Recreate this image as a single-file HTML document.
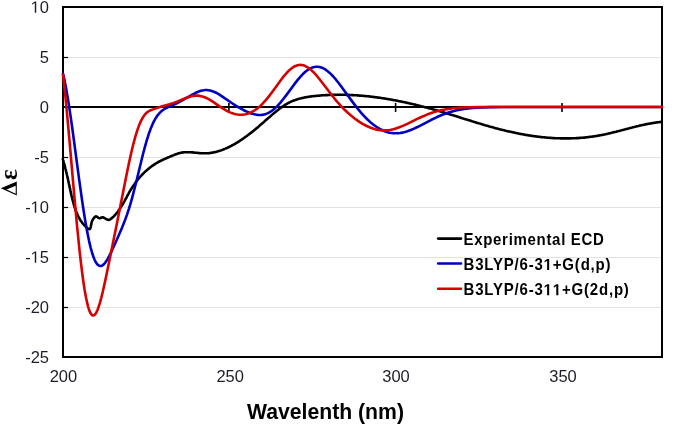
<!DOCTYPE html>
<html><head><meta charset="utf-8"><style>
html,body{margin:0;padding:0;background:#fff;}
body{width:675px;height:426px;overflow:hidden;}
svg{display:block;will-change:transform;}
.lab{font-family:"Liberation Sans",sans-serif;font-size:16.5px;fill:#1e1e2a;}
.leg{font-family:"Liberation Sans",sans-serif;font-size:15px;font-weight:bold;fill:#000;letter-spacing:0.7px;}
.o1{fill-opacity:0;}
.ttl{font-family:"Liberation Sans",sans-serif;font-size:21.2px;font-weight:bold;fill:#000;}
.yt{font-family:"Liberation Serif",serif;font-size:25px;font-weight:bold;fill:#000;}
</style></head><body>
<svg width="675" height="426" viewBox="0 0 675 426">
<rect x="0" y="0" width="675" height="426" fill="#fff"/>
<g stroke="#e2e2e2" stroke-width="1"><line x1="63.0" y1="57.5" x2="662.0" y2="57.5"/><line x1="63.0" y1="157.5" x2="662.0" y2="157.5"/><line x1="63.0" y1="207.5" x2="662.0" y2="207.5"/><line x1="63.0" y1="257.5" x2="662.0" y2="257.5"/><line x1="63.0" y1="307.5" x2="662.0" y2="307.5"/></g>
<g stroke="#000" stroke-width="1.2"><line x1="63.0" y1="57.5" x2="68.0" y2="57.5"/><line x1="63.0" y1="157.5" x2="68.0" y2="157.5"/><line x1="63.0" y1="207.5" x2="68.0" y2="207.5"/><line x1="63.0" y1="257.5" x2="68.0" y2="257.5"/><line x1="63.0" y1="307.5" x2="68.0" y2="307.5"/></g>
<line x1="63.0" y1="107" x2="662.0" y2="107" stroke="#000" stroke-width="2"/>
<g stroke="#000" stroke-width="1.6"><line x1="228.9" y1="103" x2="228.9" y2="112"/><line x1="395.6" y1="103" x2="395.6" y2="112"/><line x1="562.0" y1="103" x2="562.0" y2="112"/></g>
<rect x="63.0" y="7" width="599.0" height="350" fill="none" stroke="#000" stroke-width="2"/>
<g fill="none" stroke-width="2.6" stroke-linejoin="round" stroke-linecap="round">
<path d="M62.8 159.0 L63.0 159.8 L63.2 160.5 L63.5 161.3 L63.7 162.1 L63.9 162.8 L64.1 163.6 L64.3 164.4 L64.5 165.2 L64.7 165.9 L64.9 166.7 L65.1 167.4 L65.3 168.2 L65.5 169.0 L65.7 169.7 L65.9 170.5 L66.1 171.3 L66.3 172.0 L66.5 172.8 L66.7 173.6 L66.8 174.3 L67.0 175.1 L67.2 175.9 L67.4 176.6 L67.5 177.4 L67.7 178.2 L67.9 178.9 L68.1 179.7 L68.2 180.5 L68.4 181.2 L68.6 182.0 L68.7 182.8 L68.9 183.6 L69.1 184.3 L69.2 185.1 L69.4 185.9 L69.6 186.7 L69.7 187.4 L69.9 188.2 L70.1 189.0 L70.2 189.8 L70.4 190.6 L70.6 191.3 L70.7 192.1 L70.9 192.9 L71.1 193.7 L71.3 194.5 L71.4 195.2 L71.6 196.0 L71.8 196.8 L72.0 197.6 L72.2 198.4 L72.4 199.1 L72.6 199.9 L72.8 200.7 L73.0 201.4 L73.2 202.2 L73.4 203.0 L73.6 203.7 L73.8 204.5 L74.0 205.3 L74.3 206.0 L74.5 206.8 L74.7 207.5 L75.0 208.3 L75.2 209.0 L75.5 209.7 L75.8 210.5 L76.0 211.2 L76.3 211.9 L76.6 212.6 L76.9 213.3 L77.2 214.1 L77.5 214.8 L77.8 215.5 L78.2 216.1 L78.5 216.8 L78.9 217.5 L79.2 218.2 L79.6 218.9 L80.0 219.5 L80.4 220.2 L80.8 220.8 L81.3 221.5 L81.7 222.1 L82.2 222.8 L82.7 223.4 L83.2 224.0 L83.8 224.7 L84.4 225.3 L85.0 225.9 L85.6 226.5 L86.2 227.1 L86.9 227.7 L87.6 228.3 L88.3 228.8 L88.9 229.1 L89.4 229.2 L89.9 228.9 L90.2 228.5 L90.5 227.8 L90.7 227.0 L90.9 226.1 L91.1 225.1 L91.3 224.1 L91.5 223.1 L91.7 222.2 L92.0 221.4 L92.3 220.6 L92.6 220.0 L93.0 219.3 L93.5 218.6 L94.0 217.9 L94.6 217.2 L95.2 216.7 L95.8 216.4 L96.5 216.5 L97.1 216.8 L97.8 217.3 L98.5 217.9 L99.1 218.2 L99.8 218.2 L100.6 218.0 L101.3 217.6 L102.0 217.4 L102.8 217.3 L103.5 217.5 L104.2 217.9 L105.0 218.3 L105.7 218.8 L106.4 219.2 L107.1 219.6 L107.9 219.8 L108.6 219.9 L109.2 219.8 L109.9 219.5 L110.6 219.1 L111.2 218.6 L111.9 218.1 L112.5 217.5 L113.1 216.9 L113.7 216.4 L114.3 215.8 L114.8 215.2 L115.4 214.6 L115.9 214.0 L116.5 213.3 L117.0 212.7 L117.5 212.1 L118.0 211.4 L118.4 210.8 L118.9 210.1 L119.4 209.5 L119.8 208.8 L120.3 208.2 L120.7 207.5 L121.1 206.8 L121.6 206.1 L122.0 205.4 L122.4 204.8 L122.8 204.1 L123.2 203.4 L123.6 202.7 L124.0 202.0 L124.4 201.3 L124.8 200.6 L125.1 199.9 L125.5 199.2 L125.9 198.5 L126.3 197.8 L126.7 197.1 L127.0 196.4 L127.4 195.7 L127.8 195.0 L128.2 194.3 L128.6 193.6 L128.9 192.9 L129.3 192.2 L129.7 191.5 L130.1 190.9 L130.5 190.2 L130.9 189.5 L131.3 188.8 L131.8 188.2 L132.2 187.5 L132.6 186.8 L133.0 186.2 L133.5 185.5 L133.9 184.9 L134.4 184.2 L134.8 183.6 L135.3 182.9 L135.7 182.3 L136.2 181.7 L136.7 181.1 L137.2 180.4 L137.6 179.8 L138.1 179.2 L138.6 178.6 L139.1 178.0 L139.6 177.4 L140.2 176.8 L140.7 176.2 L141.2 175.7 L141.7 175.1 L142.3 174.5 L142.8 174.0 L143.4 173.4 L143.9 172.9 L144.5 172.3 L145.0 171.8 L145.6 171.2 L146.2 170.7 L146.8 170.2 L147.4 169.7 L148.0 169.2 L148.6 168.7 L149.2 168.2 L149.8 167.7 L150.4 167.2 L151.0 166.7 L151.7 166.3 L152.3 165.8 L153.0 165.4 L153.6 164.9 L154.3 164.5 L155.0 164.1 L155.6 163.6 L156.3 163.2 L157.0 162.8 L157.7 162.4 L158.4 162.0 L159.1 161.6 L159.8 161.3 L160.5 160.9 L161.3 160.5 L162.0 160.2 L162.7 159.8 L163.4 159.5 L164.2 159.2 L164.9 158.8 L165.7 158.5 L166.4 158.2 L167.1 157.9 L167.9 157.5 L168.6 157.2 L169.4 156.9 L170.1 156.6 L170.8 156.3 L171.6 156.0 L172.3 155.7 L173.0 155.4 L173.8 155.1 L174.5 154.8 L175.2 154.6 L175.9 154.3 L176.7 154.0 L177.4 153.8 L178.1 153.5 L178.8 153.3 L179.6 153.1 L180.3 152.9 L181.0 152.8 L181.8 152.6 L182.5 152.5 L183.3 152.4 L184.0 152.3 L184.8 152.3 L185.5 152.2 L186.3 152.2 L187.1 152.2 L187.9 152.2 L188.6 152.2 L189.4 152.2 L190.2 152.3 L191.0 152.3 L191.8 152.4 L192.6 152.4 L193.4 152.5 L194.2 152.6 L195.0 152.7 L195.8 152.7 L196.6 152.8 L197.4 152.9 L198.2 153.0 L199.0 153.0 L199.8 153.1 L200.6 153.2 L201.4 153.2 L202.2 153.3 L203.0 153.3 L203.8 153.3 L204.6 153.3 L205.4 153.3 L206.2 153.3 L207.0 153.3 L207.8 153.2 L208.6 153.2 L209.4 153.1 L210.2 153.0 L211.0 152.9 L211.8 152.8 L212.6 152.6 L213.4 152.5 L214.1 152.3 L214.9 152.1 L215.7 152.0 L216.5 151.8 L217.2 151.6 L218.0 151.3 L218.7 151.1 L219.5 150.9 L220.3 150.6 L221.0 150.4 L221.8 150.1 L222.5 149.8 L223.3 149.5 L224.0 149.2 L224.7 148.9 L225.5 148.6 L226.2 148.3 L226.9 148.0 L227.7 147.6 L228.4 147.3 L229.1 147.0 L229.8 146.6 L230.5 146.2 L231.2 145.9 L231.9 145.5 L232.6 145.1 L233.3 144.8 L234.0 144.4 L234.7 144.0 L235.4 143.6 L236.0 143.2 L236.7 142.8 L237.4 142.4 L238.1 142.0 L238.7 141.5 L239.4 141.1 L240.0 140.7 L240.7 140.3 L241.4 139.8 L242.0 139.4 L242.7 138.9 L243.3 138.5 L243.9 138.0 L244.6 137.6 L245.2 137.1 L245.8 136.7 L246.5 136.2 L247.1 135.7 L247.7 135.3 L248.4 134.8 L249.0 134.3 L249.6 133.8 L250.2 133.4 L250.8 132.9 L251.5 132.4 L252.1 131.9 L252.7 131.4 L253.3 130.9 L253.9 130.4 L254.5 129.9 L255.1 129.4 L255.7 128.9 L256.3 128.4 L257.0 127.9 L257.6 127.4 L258.2 126.9 L258.8 126.4 L259.4 125.8 L260.0 125.3 L260.6 124.8 L261.2 124.3 L261.8 123.8 L262.4 123.2 L263.0 122.7 L263.6 122.2 L264.2 121.7 L264.8 121.1 L265.4 120.6 L266.0 120.1 L266.6 119.6 L267.2 119.0 L267.8 118.5 L268.4 118.0 L269.0 117.4 L269.6 116.9 L270.2 116.4 L270.8 115.9 L271.4 115.3 L272.1 114.8 L272.7 114.3 L273.3 113.8 L273.9 113.2 L274.5 112.7 L275.1 112.2 L275.8 111.7 L276.4 111.2 L277.0 110.7 L277.6 110.2 L278.3 109.7 L278.9 109.2 L279.5 108.7 L280.2 108.2 L280.8 107.8 L281.5 107.3 L282.1 106.9 L282.8 106.4 L283.4 106.0 L284.1 105.5 L284.8 105.1 L285.4 104.7 L286.1 104.3 L286.8 103.9 L287.5 103.5 L288.1 103.1 L288.8 102.8 L289.5 102.4 L290.2 102.1 L290.9 101.7 L291.6 101.4 L292.3 101.1 L293.1 100.8 L293.8 100.5 L294.5 100.2 L295.3 100.0 L296.0 99.7 L296.7 99.5 L297.5 99.2 L298.2 99.0 L299.0 98.8 L299.7 98.6 L300.5 98.4 L301.3 98.2 L302.0 98.0 L302.8 97.9 L303.6 97.7 L304.3 97.5 L305.1 97.4 L305.9 97.2 L306.7 97.1 L307.5 97.0 L308.3 96.9 L309.0 96.7 L309.8 96.6 L310.6 96.5 L311.4 96.4 L312.2 96.3 L313.0 96.2 L313.8 96.1 L314.6 96.0 L315.4 96.0 L316.2 95.9 L316.9 95.8 L317.7 95.7 L318.5 95.7 L319.3 95.6 L320.1 95.5 L320.9 95.5 L321.7 95.4 L322.5 95.3 L323.3 95.3 L324.1 95.2 L324.9 95.2 L325.7 95.1 L326.5 95.1 L327.2 95.1 L328.0 95.0 L328.8 95.0 L329.6 95.0 L330.4 94.9 L331.2 94.9 L332.0 94.9 L332.8 94.8 L333.6 94.8 L334.4 94.8 L335.2 94.8 L336.0 94.8 L336.7 94.8 L337.5 94.8 L338.3 94.8 L339.1 94.8 L339.9 94.8 L340.7 94.8 L341.5 94.8 L342.3 94.8 L343.1 94.8 L343.9 94.8 L344.7 94.8 L345.4 94.8 L346.2 94.9 L347.0 94.9 L347.8 94.9 L348.6 94.9 L349.4 95.0 L350.2 95.0 L351.0 95.0 L351.8 95.1 L352.5 95.1 L353.3 95.1 L354.1 95.2 L354.9 95.2 L355.7 95.3 L356.5 95.3 L357.3 95.4 L358.1 95.4 L358.9 95.5 L359.6 95.6 L360.4 95.6 L361.2 95.7 L362.0 95.7 L362.8 95.8 L363.6 95.9 L364.4 96.0 L365.1 96.0 L365.9 96.1 L366.7 96.2 L367.5 96.3 L368.3 96.3 L369.1 96.4 L369.9 96.5 L370.6 96.6 L371.4 96.7 L372.2 96.8 L373.0 96.9 L373.8 97.0 L374.6 97.1 L375.4 97.2 L376.1 97.3 L376.9 97.4 L377.7 97.5 L378.5 97.6 L379.3 97.7 L380.1 97.8 L380.8 97.9 L381.6 98.1 L382.4 98.2 L383.2 98.3 L384.0 98.4 L384.8 98.5 L385.5 98.7 L386.3 98.8 L387.1 98.9 L387.9 99.1 L388.7 99.2 L389.4 99.3 L390.2 99.5 L391.0 99.6 L391.8 99.7 L392.6 99.9 L393.3 100.0 L394.1 100.2 L394.9 100.3 L395.7 100.5 L396.5 100.6 L397.2 100.8 L398.0 100.9 L398.8 101.1 L399.6 101.2 L400.3 101.4 L401.1 101.5 L401.9 101.7 L402.7 101.9 L403.5 102.0 L404.2 102.2 L405.0 102.3 L405.8 102.5 L406.6 102.7 L407.3 102.9 L408.1 103.0 L408.9 103.2 L409.7 103.4 L410.4 103.6 L411.2 103.7 L412.0 103.9 L412.7 104.1 L413.5 104.3 L414.3 104.5 L415.1 104.6 L415.8 104.8 L416.6 105.0 L417.4 105.2 L418.2 105.4 L418.9 105.6 L419.7 105.8 L420.5 106.0 L421.2 106.2 L422.0 106.4 L422.8 106.6 L423.5 106.8 L424.3 107.0 L425.1 107.2 L425.8 107.4 L426.6 107.6 L427.4 107.8 L428.1 108.0 L428.9 108.2 L429.7 108.4 L430.4 108.6 L431.2 108.8 L432.0 109.0 L432.7 109.3 L433.5 109.5 L434.3 109.7 L435.0 109.9 L435.8 110.1 L436.6 110.3 L437.3 110.6 L438.1 110.8 L438.9 111.0 L439.6 111.2 L440.4 111.4 L441.1 111.7 L441.9 111.9 L442.7 112.1 L443.4 112.3 L444.2 112.6 L444.9 112.8 L445.7 113.0 L446.5 113.3 L447.2 113.5 L448.0 113.7 L448.7 114.0 L449.5 114.2 L450.2 114.4 L451.0 114.7 L451.8 114.9 L452.5 115.1 L453.3 115.4 L454.0 115.6 L454.8 115.8 L455.5 116.1 L456.3 116.3 L457.1 116.5 L457.8 116.8 L458.6 117.0 L459.3 117.3 L460.1 117.5 L460.8 117.7 L461.6 118.0 L462.3 118.2 L463.1 118.4 L463.9 118.7 L464.6 118.9 L465.4 119.2 L466.1 119.4 L466.9 119.6 L467.6 119.9 L468.4 120.1 L469.1 120.3 L469.9 120.6 L470.7 120.8 L471.4 121.0 L472.2 121.3 L472.9 121.5 L473.7 121.7 L474.4 122.0 L475.2 122.2 L475.9 122.4 L476.7 122.7 L477.5 122.9 L478.2 123.1 L479.0 123.4 L479.7 123.6 L480.5 123.8 L481.2 124.0 L482.0 124.3 L482.8 124.5 L483.5 124.7 L484.3 124.9 L485.0 125.2 L485.8 125.4 L486.5 125.6 L487.3 125.8 L488.1 126.0 L488.8 126.3 L489.6 126.5 L490.3 126.7 L491.1 126.9 L491.9 127.1 L492.6 127.3 L493.4 127.5 L494.2 127.7 L494.9 128.0 L495.7 128.2 L496.4 128.4 L497.2 128.6 L498.0 128.8 L498.7 129.0 L499.5 129.2 L500.3 129.4 L501.0 129.6 L501.8 129.7 L502.6 129.9 L503.3 130.1 L504.1 130.3 L504.9 130.5 L505.6 130.7 L506.4 130.9 L507.2 131.1 L507.9 131.2 L508.7 131.4 L509.5 131.6 L510.3 131.8 L511.0 131.9 L511.8 132.1 L512.6 132.3 L513.3 132.4 L514.1 132.6 L514.9 132.8 L515.7 132.9 L516.4 133.1 L517.2 133.3 L518.0 133.4 L518.8 133.6 L519.5 133.7 L520.3 133.9 L521.1 134.0 L521.9 134.2 L522.6 134.3 L523.4 134.4 L524.2 134.6 L525.0 134.7 L525.8 134.9 L526.5 135.0 L527.3 135.1 L528.1 135.3 L528.9 135.4 L529.7 135.5 L530.4 135.6 L531.2 135.7 L532.0 135.9 L532.8 136.0 L533.6 136.1 L534.4 136.2 L535.1 136.3 L535.9 136.4 L536.7 136.5 L537.5 136.6 L538.3 136.7 L539.1 136.8 L539.9 136.9 L540.7 137.0 L541.4 137.1 L542.2 137.2 L543.0 137.2 L543.8 137.3 L544.6 137.4 L545.4 137.5 L546.2 137.5 L547.0 137.6 L547.8 137.7 L548.6 137.7 L549.4 137.8 L550.2 137.9 L550.9 137.9 L551.7 138.0 L552.5 138.0 L553.3 138.1 L554.1 138.1 L554.9 138.2 L555.7 138.2 L556.5 138.2 L557.3 138.3 L558.1 138.3 L558.9 138.3 L559.7 138.3 L560.5 138.4 L561.3 138.4 L562.1 138.4 L562.9 138.4 L563.7 138.4 L564.5 138.4 L565.3 138.4 L566.1 138.4 L566.9 138.4 L567.6 138.4 L568.4 138.4 L569.2 138.4 L570.0 138.4 L570.8 138.4 L571.6 138.3 L572.4 138.3 L573.2 138.3 L574.0 138.3 L574.8 138.2 L575.6 138.2 L576.4 138.1 L577.2 138.1 L578.0 138.1 L578.8 138.0 L579.6 137.9 L580.4 137.9 L581.1 137.8 L581.9 137.8 L582.7 137.7 L583.5 137.6 L584.3 137.6 L585.1 137.5 L585.9 137.4 L586.7 137.3 L587.5 137.2 L588.2 137.1 L589.0 137.0 L589.8 136.9 L590.6 136.8 L591.4 136.7 L592.2 136.6 L593.0 136.5 L593.7 136.4 L594.5 136.3 L595.3 136.2 L596.1 136.0 L596.9 135.9 L597.6 135.8 L598.4 135.6 L599.2 135.5 L600.0 135.3 L600.7 135.2 L601.5 135.0 L602.3 134.9 L603.1 134.7 L603.8 134.6 L604.6 134.4 L605.4 134.2 L606.2 134.1 L606.9 133.9 L607.7 133.7 L608.5 133.5 L609.2 133.4 L610.0 133.2 L610.8 133.0 L611.6 132.8 L612.3 132.6 L613.1 132.4 L613.9 132.3 L614.6 132.1 L615.4 131.9 L616.2 131.7 L616.9 131.5 L617.7 131.3 L618.5 131.1 L619.2 130.9 L620.0 130.7 L620.7 130.5 L621.5 130.3 L622.3 130.1 L623.0 129.9 L623.8 129.7 L624.6 129.5 L625.3 129.3 L626.1 129.1 L626.9 128.9 L627.6 128.7 L628.4 128.5 L629.2 128.3 L629.9 128.1 L630.7 127.9 L631.5 127.7 L632.2 127.5 L633.0 127.3 L633.8 127.1 L634.5 126.9 L635.3 126.7 L636.1 126.5 L636.8 126.3 L637.6 126.2 L638.4 126.0 L639.1 125.8 L639.9 125.6 L640.7 125.4 L641.5 125.3 L642.2 125.1 L643.0 124.9 L643.8 124.7 L644.6 124.6 L645.3 124.4 L646.1 124.3 L646.9 124.1 L647.7 124.0 L648.4 123.8 L649.2 123.7 L650.0 123.5 L650.8 123.4 L651.6 123.2 L652.3 123.1 L653.1 123.0 L653.9 122.9 L654.7 122.7 L655.5 122.6 L656.3 122.5 L657.0 122.4 L657.8 122.3 L658.6 122.2 L659.4 122.1 L660.2 122.0 L661.0 121.9 L661.8 121.9" stroke="#000"/>
<path d="M63.00 73.56 L64.50 80.24 L66.00 87.87 L67.60 96.97 L69.30 107.61 L70.90 118.38 L72.60 130.47 L79.10 179.11 L81.90 199.18 L83.40 209.26 L84.80 218.10 L86.20 226.32 L87.50 233.35 L89.10 241.11 L90.70 247.85 L92.30 253.52 L93.80 257.86 L94.60 259.78 L95.40 261.44 L96.20 262.83 L97.00 263.96 L97.80 264.84 L98.60 265.48 L99.40 265.88 L100.30 266.06 L101.20 265.96 L102.10 265.62 L103.10 264.95 L104.10 264.02 L105.10 262.85 L106.20 261.32 L107.40 259.40 L108.60 257.25 L110.20 254.14 L112.10 250.16 L117.80 237.50 L122.10 227.51 L125.20 219.64 L127.10 214.33 L128.90 208.86 L130.60 203.27 L132.40 196.88 L135.60 184.50 L142.90 154.54 L144.90 146.92 L146.70 140.58 L148.80 133.91 L150.80 128.38 L151.80 125.92 L152.90 123.44 L153.90 121.40 L155.00 119.36 L156.00 117.70 L157.10 116.06 L158.20 114.61 L159.30 113.32 L160.50 112.09 L161.70 111.02 L163.00 110.00 L164.50 108.99 L166.20 108.01 L168.10 107.05 L176.30 103.46 L180.50 101.43 L184.50 99.23 L192.30 94.64 L195.30 93.03 L198.20 91.71 L200.80 90.81 L202.40 90.42 L203.90 90.18 L205.40 90.06 L206.90 90.07 L208.40 90.20 L210.00 90.49 L211.50 90.88 L213.10 91.43 L214.50 92.01 L216.00 92.72 L219.10 94.45 L222.40 96.56 L231.40 102.78 L236.10 105.84 L238.70 107.42 L241.30 108.90 L243.80 110.22 L246.20 111.39 L248.80 112.51 L251.20 113.41 L253.50 114.10 L255.60 114.58 L257.60 114.87 L259.60 114.98 L261.50 114.90 L263.40 114.63 L265.10 114.21 L266.80 113.61 L268.50 112.84 L270.20 111.89 L271.90 110.75 L273.60 109.44 L275.40 107.87 L277.20 106.12 L280.20 102.84 L283.50 98.80 L286.70 94.59 L294.20 84.40 L298.10 79.41 L300.10 77.05 L301.90 75.08 L303.70 73.28 L305.40 71.74 L307.30 70.25 L309.10 69.05 L310.90 68.09 L312.60 67.41 L314.40 66.93 L316.10 66.71 L317.80 66.73 L319.60 66.99 L321.20 67.44 L322.80 68.08 L324.40 68.91 L326.00 69.93 L327.70 71.19 L329.40 72.64 L331.20 74.36 L333.00 76.24 L336.00 79.70 L339.40 83.99 L342.70 88.42 L352.30 101.63 L355.30 105.59 L358.10 109.13 L361.20 112.82 L364.20 116.16 L367.20 119.22 L370.10 121.92 L373.20 124.50 L376.30 126.76 L379.40 128.69 L382.40 130.23 L385.40 131.46 L386.90 131.96 L388.50 132.40 L390.00 132.73 L391.60 132.99 L393.10 133.16 L394.70 133.26 L396.50 133.27 L398.30 133.17 L400.20 132.96 L402.10 132.64 L404.00 132.22 L406.00 131.67 L408.00 131.03 L410.10 130.27 L413.50 128.85 L417.40 127.03 L430.90 120.04 L436.50 117.30 L439.40 116.00 L442.30 114.79 L445.10 113.72 L447.80 112.78 L450.40 111.97 L453.10 111.21 L455.80 110.54 L458.50 109.95 L464.20 108.96 L470.40 108.21 L476.50 107.72 L483.40 107.38 L491.50 107.17 L501.90 107.05 L526.20 107.00 L662.00 107.00" stroke="#0000c0"/>
<path d="M63.00 74.46 L65.00 92.69 L67.30 116.33 L69.40 139.62 L74.50 198.11 L77.10 226.36 L79.50 250.08 L80.60 259.98 L81.70 269.17 L83.20 280.49 L84.60 289.70 L86.00 297.53 L87.40 303.95 L88.10 306.62 L88.80 308.94 L89.50 310.89 L90.20 312.50 L90.90 313.75 L91.60 314.66 L92.30 315.23 L92.70 315.40 L93.10 315.48 L93.60 315.42 L94.10 315.21 L94.60 314.84 L95.20 314.21 L95.70 313.52 L96.30 312.51 L97.50 309.94 L98.70 306.69 L99.90 302.84 L101.20 298.10 L102.70 292.03 L105.30 280.40 L108.90 263.06 L117.00 222.98 L125.60 179.58 L128.50 165.35 L130.30 156.98 L132.00 149.54 L133.60 143.05 L135.20 137.13 L137.10 130.90 L139.00 125.57 L139.90 123.37 L140.90 121.14 L141.80 119.35 L142.80 117.58 L143.80 116.03 L144.80 114.70 L145.80 113.56 L146.80 112.61 L147.90 111.75 L149.00 111.05 L150.20 110.45 L151.60 109.88 L161.50 106.49 L169.40 104.27 L173.00 103.12 L177.00 101.63 L185.30 98.22 L188.90 96.95 L191.20 96.32 L193.40 95.89 L195.50 95.67 L197.50 95.66 L199.90 95.90 L202.30 96.44 L204.70 97.26 L207.30 98.44 L209.50 99.64 L212.00 101.18 L220.70 107.10 L224.40 109.45 L226.40 110.59 L228.30 111.57 L230.10 112.39 L231.90 113.09 L233.90 113.74 L235.90 114.23 L237.90 114.56 L239.90 114.73 L241.90 114.72 L243.80 114.55 L245.70 114.22 L247.60 113.73 L249.50 113.06 L251.40 112.23 L253.30 111.21 L255.20 110.02 L257.10 108.64 L259.00 107.09 L260.90 105.36 L262.80 103.46 L266.00 99.90 L269.50 95.57 L272.80 91.17 L280.00 81.23 L283.30 76.91 L286.40 73.24 L287.90 71.64 L289.30 70.28 L290.80 68.96 L292.20 67.89 L293.60 66.97 L294.90 66.26 L296.30 65.66 L297.60 65.26 L298.90 65.01 L300.20 64.92 L301.70 65.01 L303.30 65.33 L304.80 65.83 L306.40 66.58 L308.00 67.54 L309.60 68.69 L311.30 70.11 L313.00 71.71 L315.80 74.69 L319.00 78.49 L322.10 82.45 L331.70 95.06 L334.90 99.05 L338.00 102.72 L341.50 106.58 L344.90 110.04 L348.40 113.32 L351.90 116.31 L355.60 119.18 L359.40 121.82 L363.10 124.09 L366.70 126.00 L370.20 127.55 L373.60 128.76 L377.00 129.65 L380.30 130.19 L382.10 130.35 L383.90 130.42 L385.70 130.39 L387.50 130.26 L389.30 130.04 L391.20 129.71 L393.10 129.29 L395.00 128.78 L398.70 127.55 L402.80 125.91 L407.30 123.85 L417.30 118.95 L422.00 116.75 L427.10 114.59 L432.00 112.79 L434.90 111.87 L437.80 111.05 L440.70 110.33 L443.70 109.70 L446.80 109.14 L450.00 108.67 L453.40 108.26 L456.90 107.93 L462.70 107.55 L469.30 107.29 L477.10 107.12 L487.30 107.04 L662.00 107.00" stroke="#d60000"/>
</g>
<g class="lab" text-anchor="end"><text x="49" y="12.8"><tspan class="o1">1</tspan>0</text><text x="49" y="62.8">5</text><text x="49" y="112.8">0</text><text x="49" y="162.8">-5</text><text x="49" y="212.8">-<tspan class="o1">1</tspan>0</text><text x="49" y="262.8">-<tspan class="o1">1</tspan>5</text><text x="49" y="312.8">-20</text><text x="49" y="362.8">-25</text></g>
<g class="lab" text-anchor="middle"><text x="63.4" y="382.4">200</text><text x="230.2" y="382.4">250</text><text x="396.0" y="382.4">300</text><text x="563.0" y="382.4">350</text></g>
<g stroke-width="2.6" stroke-linecap="round"><line x1="438.2" y1="238.6" x2="461" y2="238.6" stroke="#000"/>
<line x1="438.2" y1="263.5" x2="461" y2="263.5" stroke="#0000c0"/>
<line x1="438.2" y1="288.8" x2="461" y2="288.8" stroke="#d60000"/></g>
<g class="leg"><text transform="translate(463.5 244.9) scale(1 1.07)">Experimental ECD</text>
<text transform="translate(463.5 270.0) scale(1 1.07)" style="letter-spacing:0.82px">B3LYP/6-3<tspan class="o1">1</tspan>+G(d,p)</text>
<text transform="translate(463.5 295.2) scale(1 1.07)" style="letter-spacing:0.82px">B3LYP/6-3<tspan class="o1">1</tspan><tspan class="o1">1</tspan>+G(2d,p)</text></g>
<path transform="translate(30.62 12.80) scale(0.00806 -0.00806)" d="M515 0L515 1237L197 1010L197 1180L530 1409L696 1409L696 0Z" fill="#1e1e2a"/><path transform="translate(30.62 212.80) scale(0.00806 -0.00806)" d="M515 0L515 1237L197 1010L197 1180L530 1409L696 1409L696 0Z" fill="#1e1e2a"/><path transform="translate(30.62 262.80) scale(0.00806 -0.00806)" d="M515 0L515 1237L197 1010L197 1180L530 1409L696 1409L696 0Z" fill="#1e1e2a"/><g transform="translate(463.5 270.0) scale(1 1.07)"><path transform="translate(80.12 0.00) scale(0.00732 -0.00732)" d="M478 0L478 1170L140 959L140 1180L493 1409L759 1409L759 0Z" fill="#000"/></g><g transform="translate(463.5 295.2) scale(1 1.07)"><path transform="translate(80.12 0.00) scale(0.00732 -0.00732)" d="M478 0L478 1170L140 959L140 1180L493 1409L759 1409L759 0Z" fill="#000"/></g><g transform="translate(463.5 295.2) scale(1 1.07)"><path transform="translate(89.28 0.00) scale(0.00732 -0.00732)" d="M478 0L478 1170L140 959L140 1180L493 1409L759 1409L759 0Z" fill="#000"/></g>
<text class="ttl" x="247" y="419">Wavelenth (nm)</text>
<path d="M0.80 188.20 L16.80 181.60 L16.80 195.60 Z M6.64 189.47 L15.70 193.66 L15.70 185.73 Z" fill="#000" fill-rule="evenodd"/>
<text class="yt" transform="translate(16.5,180) rotate(-90)">&#949;</text>
</svg>
</body></html>
